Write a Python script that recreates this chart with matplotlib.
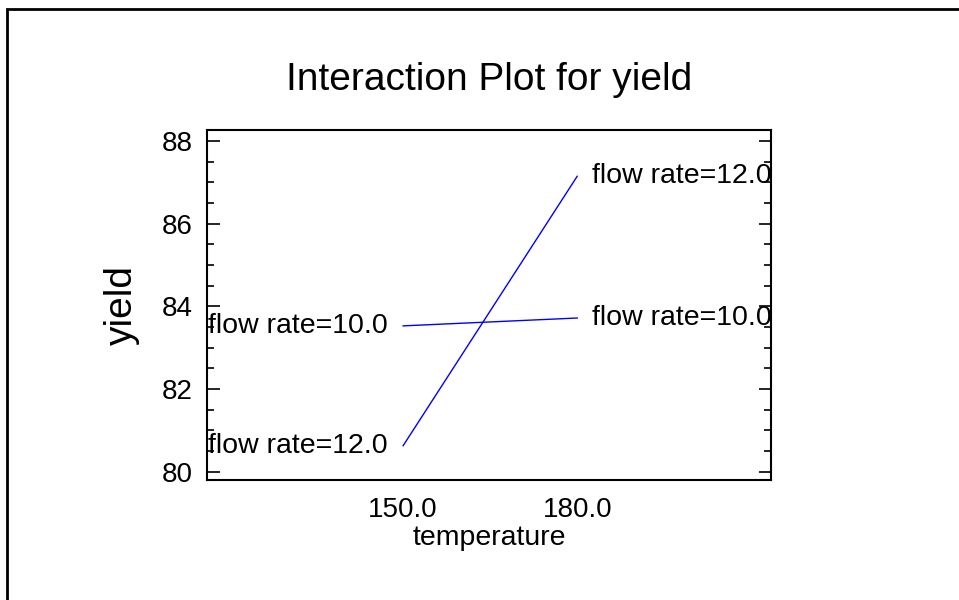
import numpy as np
import matplotlib.pyplot as plt
from matplotlib.patches import Rectangle
from matplotlib.ticker import MultipleLocator

plt.rcParams['font.family'] = ['Liberation Sans', 'DejaVu Sans']

# srednie wartosci yield dla kazdej kombinacji
temperatura = [150.0, 180.0]
flow_10 = [83.53, 83.72]
flow_12 = [80.63, 87.15]
serie = [("flow rate=10.0", flow_10), ("flow rate=12.0", flow_12)]

fig = plt.figure(figsize=(9.59, 6), dpi=100)
ax = fig.add_axes([207/959, 0.2, (771-207)/959, (480-130)/600])

# ramka wokol calego rysunku
fig.patches.append(Rectangle((7/959, -0.5), 2, 1.5 - 9/600, transform=fig.transFigure,
                             fill=False, edgecolor='black', linewidth=2))

for nazwa, y in serie:
    ax.plot(temperatura, y, color='#0000ff', linewidth=1)
    ax.annotate(nazwa, (temperatura[0], y[0]), xytext=(-11, 0), textcoords='offset points',
                ha='right', va='center', fontsize=20.5, annotation_clip=False)
    ax.annotate(nazwa, (temperatura[1], y[1]), xytext=(11, 0), textcoords='offset points',
                ha='left', va='center', fontsize=20.5, annotation_clip=False, zorder=1)

ax.set_xlim(116.2, 213.4)
ax.set_ylim(79.8, 88.27)
ax.set_xticks(temperatura)
ax.set_xticklabels(["%.1f" % t for t in temperatura])
ax.yaxis.set_major_locator(MultipleLocator(2))
ax.yaxis.set_minor_locator(MultipleLocator(0.5))
ax.tick_params(axis='y', which='both', direction='in', left=True, right=True, labelsize=20, pad=10)
ax.tick_params(axis='y', which='major', length=9, width=1.2)
ax.tick_params(axis='y', which='minor', length=5, width=1.2)
ax.tick_params(axis='x', length=0, labelsize=20, pad=12)
for s in ax.spines.values():
    s.set_linewidth(1.5)
    s.set_zorder(3)

ax.set_xlabel("temperature", fontsize=20.5, labelpad=2)
ax.set_ylabel("yield", fontsize=28, labelpad=16)
ax.set_title("Interaction Plot for yield", fontsize=28, pad=29)

fig.savefig('out.png', dpi=100)
